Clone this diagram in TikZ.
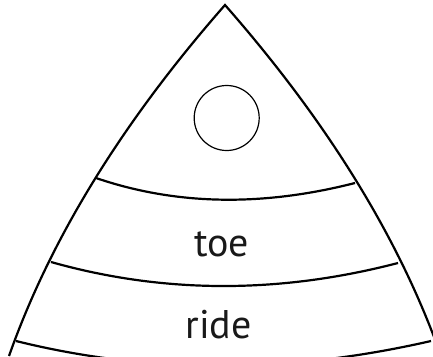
\documentclass[tikz,border=0pt]{standalone}
\usepackage{fontspec}
\setmainfont{PT Sans}
\tikzset{
  outline/.style={line width=2.2pt, black, line join=miter},
  band/.style={line width=2.2pt, black},
  hole/.style={line width=1.2pt, black},
  word/.style={font=\fontsize{40}{40}\selectfont, inner sep=0pt, anchor=base, text=black!90}
}
\begin{document}
\begin{tikzpicture}[x=1pt,y=-1pt]
\useasboundingbox (0,0) rectangle (433,356);
\clip (0,0) rectangle (433,356);
% side corners
\coordinate (apex) at (225,5);
\coordinate (bl) at (9,356);
\coordinate (br) at (441,356);
% sides (quadratic curves)
\draw[outline] (bl) .. controls (50.3,239) and (122.3,122) .. (apex)
               .. controls (327.7,122) and (399.7,239) .. (br);
% bands
\coordinate (b1l) at (96,178);
\coordinate (b1r) at (355,183);
\coordinate (b2l) at (51,262);
\coordinate (b2r) at (398,263);
\coordinate (b3l) at (16,341);
\coordinate (b3r) at (431,341);
\draw[band] (b1l) .. controls (175,205) and (261,207) .. (b1r);
\draw[band] (b2l) .. controls (163,293.7) and (279,294) .. (b2r);
\draw[band] (b3l) .. controls (149,374) and (287,374) .. (b3r);
% circle
\node[hole, draw, circle, minimum size=65pt, inner sep=0pt] (ring) at (226.7,118) {};
% labels
\node[word] (toe) at (221.7,256) {toe};
\node[word] (ride) at (218.7,338.3) {ride};
\end{tikzpicture}
\end{document}
